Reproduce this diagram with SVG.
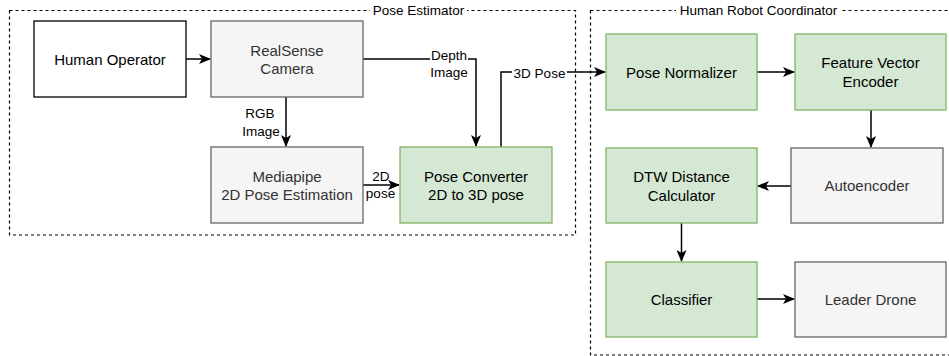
<svg xmlns="http://www.w3.org/2000/svg" width="949" height="356" viewBox="0 0 949 356">
<style>
text{font-family:"Liberation Sans",Arial,sans-serif;text-anchor:middle}
.n{font-size:15px}
.e{font-size:13.5px;fill:#000}
.grp{fill:none;stroke:#000;stroke-width:1.2;stroke-dasharray:3 3}
.white{fill:#fff;stroke:#000;stroke-width:1.3}
.gray{fill:#f5f5f5;stroke:#666;stroke-width:1.3}
.green{fill:#d5e8d4;stroke:#82b366;stroke-width:1.3}
.tg{fill:#333}
.tk{fill:#000}
.c{fill:none;stroke:#000;stroke-width:1.5}
</style>
<defs>
<marker id="a" viewBox="0 0 12 10" refX="11" refY="5" markerWidth="12" markerHeight="10" markerUnits="userSpaceOnUse" orient="auto">
<path d="M0,0 L12,5 L0,10 L3,5 z" fill="#000"/>
</marker>
</defs>
<rect width="949" height="356" fill="#fff"/>
<g id="pose-estimator">
<rect class="grp" x="9.5" y="10.5" width="566" height="224.5"/>
<rect x="370" y="3" width="97" height="15" fill="#fff"/>
<text class="e" x="418.5" y="15">Pose Estimator</text>
</g>
<g id="human-robot-coordinator">
<rect class="grp" x="590.5" y="10.5" width="380" height="344.5"/>
<rect x="676" y="3" width="165" height="15" fill="#fff"/>
<text class="e" x="758.5" y="15">Human Robot Coordinator</text>
</g>
<g id="connectors">
<path class="c" d="M186,59 L210,59" stroke-width="2" marker-end="url(#a)"/>
<path class="c" d="M363,59 L476,59 L476,146" marker-end="url(#a)"/>
<path class="c" d="M286,97 L286,146" marker-end="url(#a)"/>
<path class="c" d="M363,185 L399,185" marker-end="url(#a)"/>
<path class="c" d="M501,147 L501,72 L605,72" marker-end="url(#a)"/>
<path class="c" d="M757,72 L794,72" marker-end="url(#a)"/>
<path class="c" d="M871,110 L871,147" marker-end="url(#a)"/>
<path class="c" d="M791,186 L758,186" marker-end="url(#a)"/>
<path class="c" d="M681.5,223 L681.5,261" marker-end="url(#a)"/>
<path class="c" d="M757,299 L794,299" marker-end="url(#a)"/>
<rect x="430" y="48" width="38" height="32" fill="#fff"/>
<text class="e" x="449" y="60">Depth</text>
<text class="e" x="449" y="76.5">Image</text>
<text class="e" x="260" y="118">RGB</text>
<text class="e" x="261" y="136">Image</text>
<text class="e" x="381" y="181">2D</text>
<text class="e" x="380.5" y="198">pose</text>
<rect x="512" y="66" width="55" height="15" fill="#fff"/>
<text class="e" x="539.5" y="78">3D Pose</text>
</g>
<g id="human-operator">
<rect class="white" x="34" y="21" width="152" height="76"/>
<text class="n tk" x="110" y="64.5">Human Operator</text>
</g>
<g id="realsense-camera">
<rect class="gray" x="211" y="21" width="152" height="76"/>
<text class="n tg" x="287" y="55.5">RealSense</text>
<text class="n tg" x="287" y="74">Camera</text>
</g>
<g id="mediapipe">
<rect class="gray" x="211" y="147" width="152" height="76"/>
<text class="n tg" x="287" y="181.5">Mediapipe</text>
<text class="n tg" x="287" y="200">2D Pose Estimation</text>
</g>
<g id="pose-converter">
<rect class="green" x="400" y="147" width="152" height="76"/>
<text class="n tk" x="476" y="181.5">Pose Converter</text>
<text class="n tk" x="476" y="200">2D to 3D pose</text>
</g>
<g id="pose-normalizer">
<rect class="green" x="606" y="34" width="151" height="76"/>
<text class="n tk" x="681.5" y="77.5">Pose Normalizer</text>
</g>
<g id="feature-vector-encoder">
<rect class="green" x="795" y="34" width="151" height="76"/>
<text class="n tk" x="870.5" y="68">Feature Vector</text>
<text class="n tk" x="870.5" y="86.5">Encoder</text>
</g>
<g id="autoencoder">
<rect class="gray" x="791" y="148" width="152" height="75"/>
<text class="n tg" x="867" y="191">Autoencoder</text>
</g>
<g id="dtw">
<rect class="green" x="606" y="148" width="151" height="75"/>
<text class="n tk" x="681.5" y="182">DTW Distance</text>
<text class="n tk" x="681.5" y="200.5">Calculator</text>
</g>
<g id="classifier">
<rect class="green" x="606" y="262" width="151" height="75"/>
<text class="n tk" x="681.5" y="304.5">Classifier</text>
</g>
<g id="leader-drone">
<rect class="gray" x="795" y="262" width="151" height="75"/>
<text class="n tg" x="870.5" y="304.5">Leader Drone</text>
</g>
</svg>
